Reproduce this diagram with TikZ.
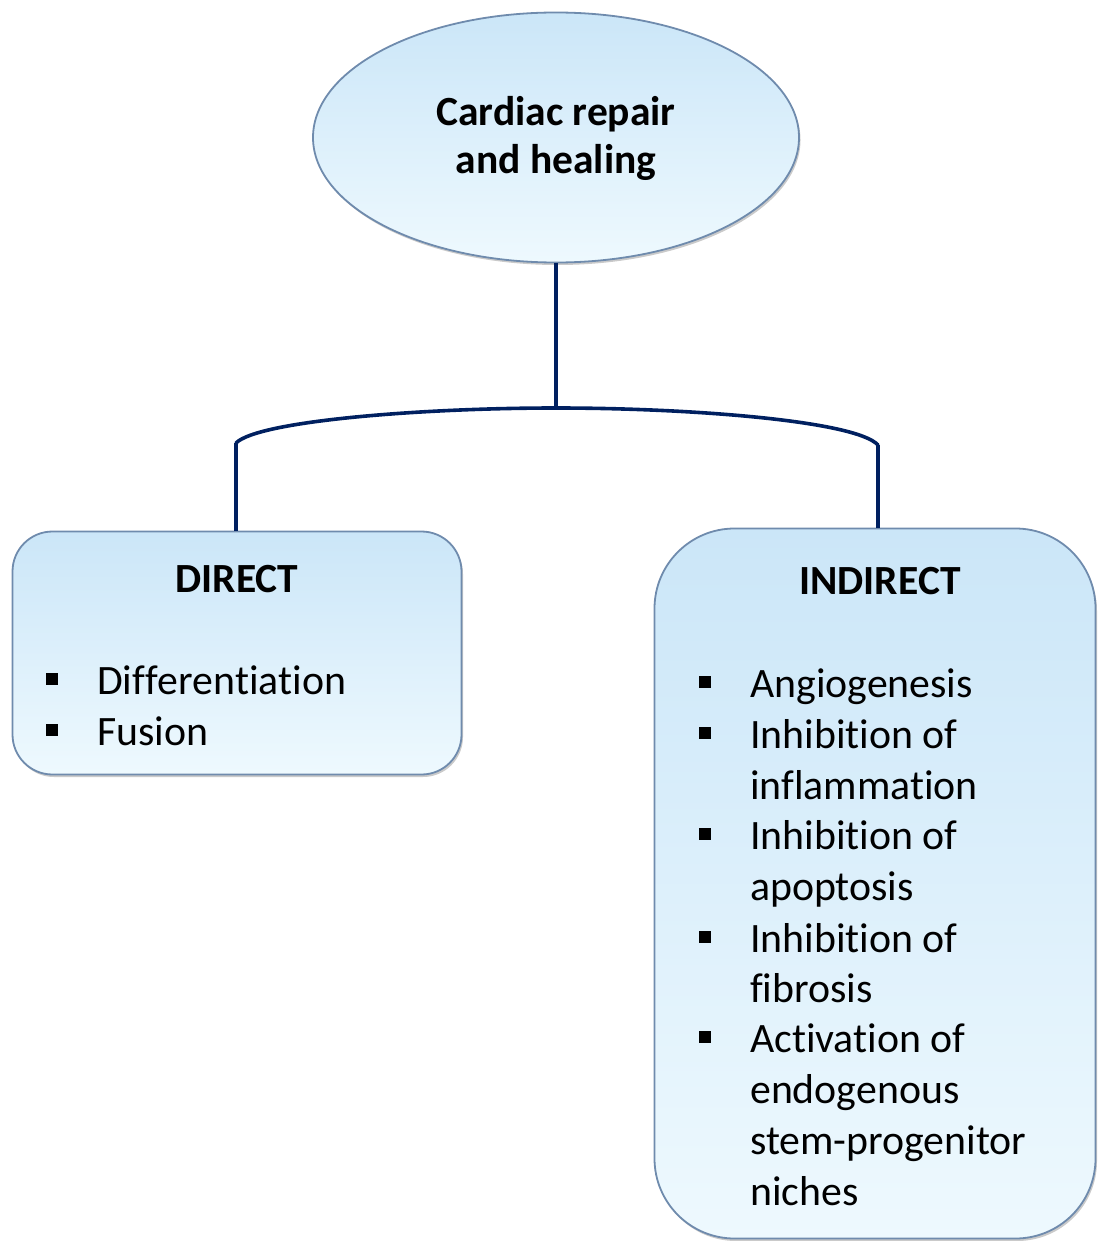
\documentclass[tikz,border=0pt]{standalone}
\usepackage{fontspec}
\setmainfont{Carlito}[RawFeature={-liga;-clig;-calt;-dlig}]
\usetikzlibrary{shapes.geometric,shadows}
\definecolor{navy}{HTML}{002060}
\definecolor{edgec}{HTML}{6F8BAD}
\definecolor{topb}{HTML}{CBE6F8}
\definecolor{botb}{HTML}{EEF9FE}
\newcommand{\nolig}{\kern0pt{}}
\begin{document}
\begin{tikzpicture}[x=1pt,y=-1pt,
  softshadow/.style={drop shadow={shadow xshift=1.5pt,shadow yshift=-2.5pt,opacity=0.35,fill=black!60}},
  rootshape/.style={ellipse,draw=edgec,line width=1.8pt,top color=topb,bottom color=botb,
    minimum width=486,minimum height=250,inner sep=0pt,softshadow},
  boxshape/.style={rectangle,draw=edgec,line width=1.8pt,top color=topb,bottom color=botb,
    inner sep=0pt,softshadow},
  conn/.style={draw=navy,line width=3.6pt},
  head/.style={font=\fontsize{41.5}{48}\selectfont\bfseries,inner sep=0pt},
  item/.style={font=\fontsize{41.8}{50.8}\selectfont,inner sep=0pt,anchor=base west},
  bul/.style={rectangle,fill=black,minimum size=11.5,inner sep=0pt}
]
\useasboundingbox (0,0) rectangle (1097,1241);

% root
\node[rootshape] (root) at (556,137.5) {};
\node[head,align=center] (roottext) at (556,138) {Cardiac repair\\and healing};

% boxes
\node[boxshape,rounded corners=40pt,minimum width=449,minimum height=243] (direct) at (237,653) {};
\node[boxshape,rounded corners=80pt,minimum width=441,minimum height=710] (indirect) at (875,883.5) {};

% connectors
\coordinate (top) at (556,408);
\coordinate (lt) at (236,443);
\coordinate (rt) at (878,445);
\draw[conn] (root.south) -- (top);
\draw[conn,line cap=round] (lt) .. controls (258,421) and (420,408) .. (top)
  .. controls (692,408) and (856,421) .. (rt);
\draw[conn] (lt) -- (lt |- direct.north);
\draw[conn] (rt) -- (rt |- indirect.north);

% DIRECT content
\node[head,anchor=base] (dtitle) at (237,592) {DIRECT};
\node[bul] (db1) at (52,679) {};
\node[item] (d1) at (97,694) {Dif\nolig f\nolig erent\nolig iat\nolig ion};
\node[bul] (db2) at (52,730) {};
\node[item] (d2) at (97,745) {Fusion};

% INDIRECT content
\node[head,anchor=base] (ititle) at (880,594) {INDIRECT};
\node[bul] (ib1) at (705,682) {};
\node[item] (i1) at (750,697) {Angiogenesis};
\node[bul] (ib2) at (705,733) {};
\node[item] (i2) at (750,748) {Inhibit\nolig ion of};
\node[item] (i3) at (750,799) {inf\nolig lammation};
\node[bul] (ib3) at (705,834) {};
\node[item] (i4) at (750,849) {Inhibit\nolig ion of};
\node[item] (i5) at (750,900) {apoptosis};
\node[bul] (ib4) at (705,937) {};
\node[item] (i6) at (750,952) {Inhibit\nolig ion of};
\node[item] (i7) at (750,1002) {f\nolig ibrosis};
\node[bul] (ib5) at (705,1037) {};
\node[item] (i8) at (750,1052) {Activat\nolig ion of};
\node[item] (i9) at (750,1103) {endogenous};
\node[item] (i10) at (750,1154) {stem-progenitor};
\node[item] (i11) at (750,1205) {niches};
\end{tikzpicture}
\end{document}
